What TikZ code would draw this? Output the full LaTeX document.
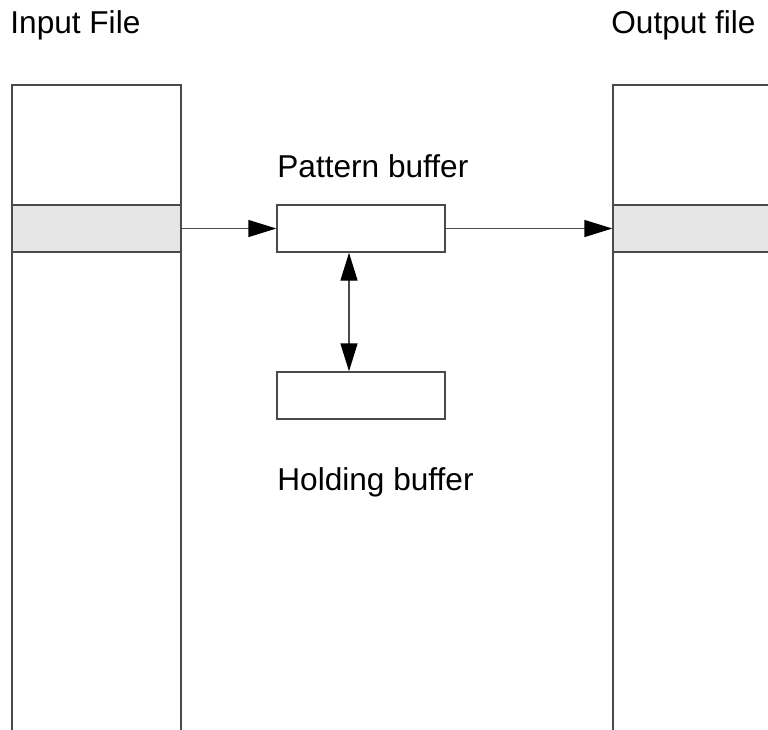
\documentclass[tikz,border=0pt]{standalone}
\usepackage{fontspec}
\setmainfont{Liberation Sans}
\usepackage{xcolor}
\usetikzlibrary{arrows.meta}
\definecolor{linegray}{HTML}{4A4A4A}
\definecolor{bandgray}{HTML}{E6E6E6}

\begin{document}
\begin{tikzpicture}[
  x=0.5pt, y=-0.5pt,
  column/.style={draw=linegray, line width=0.7pt, minimum width=84.5pt,
                 minimum height=337.5pt, inner sep=0pt},
  band/.style={draw=linegray, line width=0.7pt, fill=bandgray,
               minimum height=23.5pt, inner sep=0pt},
  bufbox/.style={draw=linegray, line width=0.7pt, fill=white,
                 minimum width=84pt, minimum height=23.5pt, inner sep=0pt},
  lbl/.style={anchor=base west, inner sep=0pt,
              font=\fontsize{15.8}{18}\selectfont},
  tip/.tip={Triangle[length=14pt, width=8.5pt, fill=black, color=black]},
  flow/.style={draw=linegray, line width=0.7pt, -tip},
  flowboth/.style={draw=linegray, line width=0.7pt, tip-tip},
]
  \useasboundingbox (0,0) rectangle (768,730);
  \clip (0,0) rectangle (768,730);

  % Files (run past the page edge)
  \node[column] (infile) at (96.5,422.5) {};
  \node[column, minimum width=93.5pt] (outfile) at (706.5,422.5) {};

  % Current line in each file
  \node[band, minimum width=84.5pt] (inrec) at (96.5,228.5) {};
  \node[band, minimum width=93.5pt] (outrec) at (706.5,228.5) {};

  % Buffers
  \node[bufbox] (patbuf) at (361,228.5) {};
  \node[bufbox] (holdbuf) at (361,395.5) {};

  % Labels
  \node[lbl] (intitle) at (10,33) {Input File};
  \node[lbl] (outtitle) at (611,33) {Output file};
  \node[lbl] (patlbl) at (277,177) {Pattern buffer};
  \node[lbl] (holdlbl) at (277,490) {Holding buffer};

  % Data flow
  \draw[flow] (inrec.east) -- (patbuf.west);
  \draw[flow] (patbuf.east) -- (outrec.west);
  \draw[flowboth] ([xshift=-6pt]patbuf.south) -- ([xshift=-6pt]holdbuf.north);
\end{tikzpicture}
\end{document}
